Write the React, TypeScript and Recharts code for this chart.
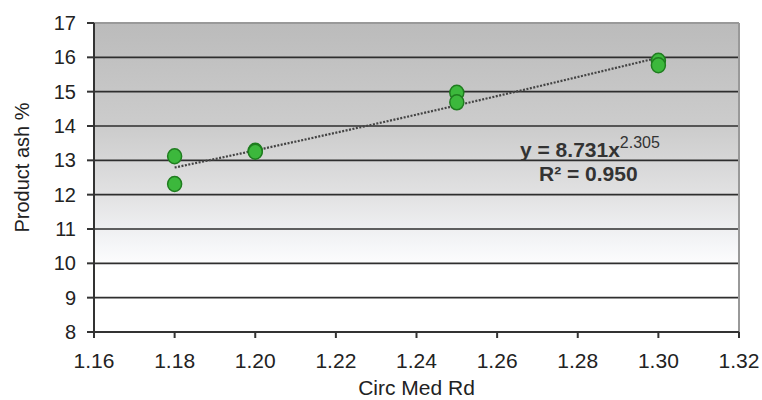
import {
  ComposedChart, Scatter, Line, XAxis, YAxis, CartesianGrid, ReferenceLine
} from 'recharts';

const circMed = [1.18, 1.18, 1.20, 1.20, 1.25, 1.25, 1.30, 1.30];
const productAsh = [13.12, 12.31, 13.28, 13.25, 14.97, 14.69, 15.9, 15.77];
const trendX = [1.18, 1.20, 1.25, 1.30];
const trendY = [12.79, 13.29, 14.6, 15.99];
const xTicks = [1.16, 1.18, 1.20, 1.22, 1.24, 1.26, 1.28, 1.30, 1.32];
const yTicks = [8, 9, 10, 11, 12, 13, 14, 15, 16, 17];

const FONT = '"Liberation Sans", Arial, sans-serif';

const points = circMed.map((x, i) => ({ x, y: productAsh[i] }));
const trend = trendX.map((x, i) => ({ x, y: trendY[i] }));

function YTitle(props: any) {
  const { x, y, height } = props.viewBox;
  const cx = x + 22;
  const cy = y + height / 2 - 10;
  return (
    <text x={cx} y={cy} transform={`rotate(-90 ${cx} ${cy})`} textAnchor="middle"
      dominantBaseline="central" fontSize={20} fill="#222" fontFamily={FONT}>
      Product ash %
    </text>
  );
}

export default function App() {
  return (
    <div style={{ position: 'absolute', left: 0, top: 0, background: '#fff' }}>
      <ComposedChart width={762} height={400} margin={{ top: 23, right: 23, left: 0, bottom: 0 }}>
        <defs>
          <linearGradient id="plotBg" x1="0" y1="0" x2="0" y2="1">
            <stop offset="0%" stopColor="#bbbbbb" />
            <stop offset="35%" stopColor="#cdcdcd" />
            <stop offset="56%" stopColor="#e2e2e3" />
            <stop offset="72%" stopColor="#f5f6f8" />
            <stop offset="80%" stopColor="#ffffff" />
            <stop offset="100%" stopColor="#ffffff" />
          </linearGradient>
        </defs>
        <CartesianGrid vertical={false} fill="url(#plotBg)" stroke="#2e2e2e" strokeWidth={1.6} />
        <XAxis type="number" dataKey="x" domain={[1.16, 1.32]} ticks={xTicks}
          tickFormatter={(v: number) => v.toFixed(2)} height={68}
          tick={{ fontSize: 21, fill: '#222', fontFamily: FONT }}
          tickSize={6} tickMargin={15} stroke="#333" strokeWidth={2}
          label={{ value: 'Circ Med Rd', position: 'insideBottom', offset: 5, fontSize: 21, fill: '#222', fontFamily: FONT }} />
        <YAxis type="number" dataKey="y" domain={[8, 17]} ticks={yTicks} width={94}
          tick={{ fontSize: 20, fill: '#222', fontFamily: FONT }}
          tickSize={7} tickMargin={11} stroke="#333" strokeWidth={2}
          label={<YTitle />} />
        <ReferenceLine y={17} stroke="#999" strokeWidth={2} />
        <ReferenceLine x={1.32} stroke="#999" strokeWidth={2} />
        <Line data={trend} dataKey="y" type="monotone" stroke="#444" strokeWidth={2.2}
          strokeDasharray="2 1.5" dot={false} activeDot={false} isAnimationActive={false} />
        <Scatter data={points} dataKey="y" fill="#3cb83c" stroke="#1f7d1f" strokeWidth={1.5}
          shape={(p: any) => <ellipse cx={p.cx} cy={p.cy} rx={7} ry={7.5} fill="#3cb83c" stroke="#1f7d1f" strokeWidth={1.5} />}
          isAnimationActive={false} />
        <text x={520} y={157} fontSize={21} fontWeight="bold" fill="#333" fontFamily={FONT}>
          y = 8.731x<tspan fontSize={16} fontWeight="normal" dy={-9}>2.305</tspan>
        </text>
        <text x={539} y={181} fontSize={21} fontWeight="bold" fill="#333" fontFamily={FONT}>
          R² = 0.950
        </text>
      </ComposedChart>
    </div>
  );
}
